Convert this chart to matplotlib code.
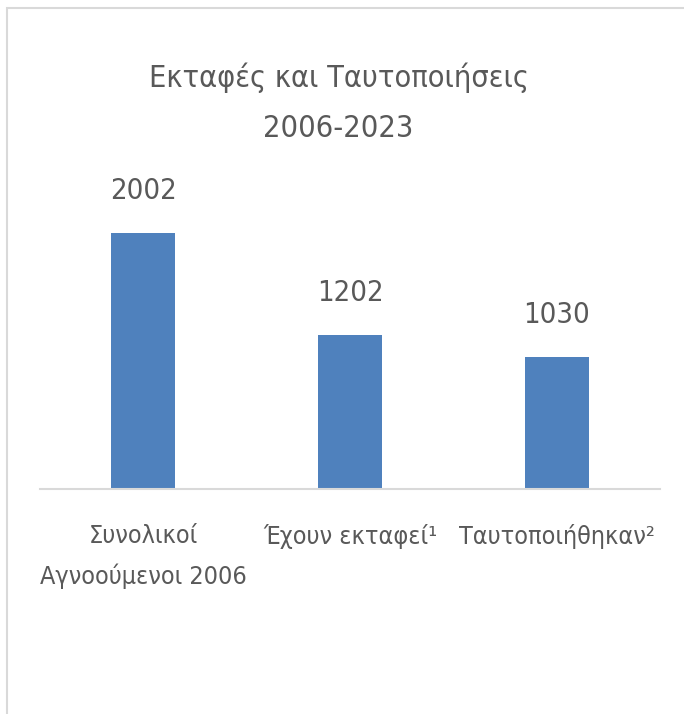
import matplotlib
matplotlib.use('Agg')
import matplotlib.pyplot as plt
from matplotlib.patches import Rectangle

plt.rcParams['font.family'] = ['DejaVu Sans']
plt.rcParams['font.stretch'] = 'condensed'

categories = ['Συνολικοί\nΑγνοούμενοι 2006', 'Έχουν εκταφεί¹', 'Ταυτοποιήθηκαν²']
values = [2002, 1202, 1030]
title = 'Εκταφές και Ταυτοποιήσεις\n2006-2023'

TEXT = '#595959'
BAR = '#4F81BD'

fig = plt.figure(figsize=(6.84, 7.14), dpi=100)
W, H = 684, 714
# axes: x 40..660 px, baseline at y=489 px, top at 160 px
ax = fig.add_axes([40 / W, 1 - 489 / H, 620 / W, (489 - 160) / H])

x = range(len(values))
bars = ax.bar(x, values, width=0.31, color=BAR)
ax.bar_label(bars, labels=[str(v) for v in values], padding=20,
             fontsize=21, color=TEXT, fontstretch='condensed')

ax.set_xlim(-0.5, 2.5)
ax.set_ylim(0, (489 - 160) / 0.1279)
ax.set_xticks(list(x))
ax.set_xticklabels(categories, fontsize=18, color=TEXT, linespacing=1.75,
                   fontstretch='condensed')
ax.tick_params(axis='x', length=0, pad=25)
ax.set_yticks([])
for s in ['top', 'right', 'left']:
    ax.spines[s].set_visible(False)
ax.spines['bottom'].set_color('#d9d9d9')
ax.spines['bottom'].set_linewidth(1.5)

fig.text(0.495, 1 - 103 / H, title, ha='center', va='center',
         fontsize=22, color=TEXT, linespacing=1.9, fontstretch='condensed')

# chart frame (cropped at right and bottom)
fig.patches.append(Rectangle((7 / W, -0.1), 1.2, 1 - 8 / H + 0.1,
                             transform=fig.transFigure, fill=False,
                             edgecolor='#d9d9d9', linewidth=1.5))

fig.savefig('out.png', dpi=100)
